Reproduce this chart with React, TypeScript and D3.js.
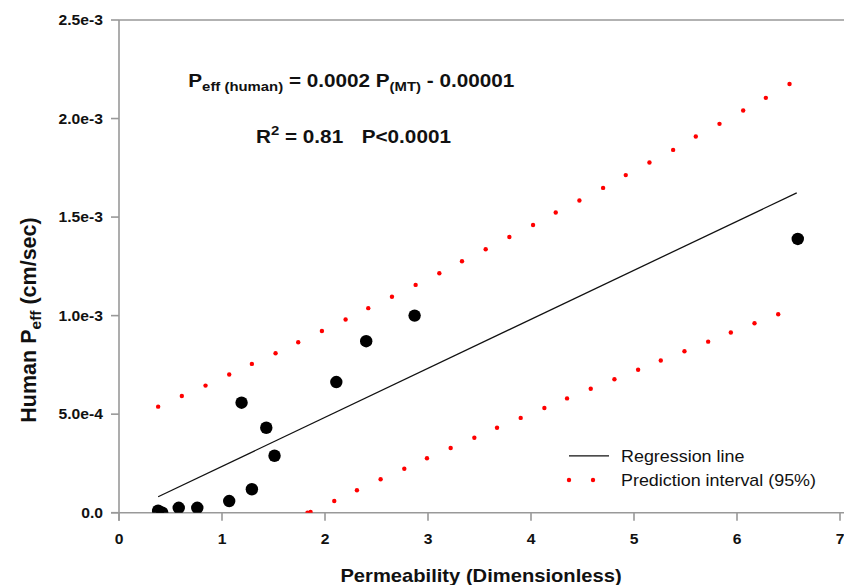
import React from "react";
import * as d3 from "d3";

// ---- data ----
const permeability = [0.38, 0.42, 0.58, 0.76, 1.07, 1.19, 1.29, 1.43, 1.51, 2.11, 2.40, 2.87, 6.59];
const humanPeff = [0.010e-3, 0.0, 0.025e-3, 0.025e-3, 0.059e-3, 0.558e-3, 0.119e-3, 0.431e-3, 0.289e-3, 0.663e-3, 0.870e-3, 1.000e-3, 1.389e-3];

const regressionX = [0.38, 6.58];
const regressionY = [0.081e-3, 1.623e-3];

const upperPIX = [0.38, 0.61, 0.84, 1.07, 1.29, 1.52, 1.74, 1.97, 2.20, 2.42, 2.65, 2.88, 3.11, 3.33, 3.56, 3.79, 4.02, 4.24, 4.47, 4.70, 4.92, 5.15, 5.38, 5.60, 5.83, 6.06, 6.28, 6.51];
const upperPIY = [0.538e-3, 0.592e-3, 0.645e-3, 0.701e-3, 0.755e-3, 0.809e-3, 0.865e-3, 0.922e-3, 0.980e-3, 1.038e-3, 1.096e-3, 1.156e-3, 1.215e-3, 1.276e-3, 1.337e-3, 1.399e-3, 1.460e-3, 1.523e-3, 1.584e-3, 1.648e-3, 1.713e-3, 1.777e-3, 1.841e-3, 1.909e-3, 1.973e-3, 2.041e-3, 2.105e-3, 2.175e-3];

const lowerPIX = [1.83, 1.86, 2.09, 2.31, 2.54, 2.77, 2.99, 3.22, 3.45, 3.67, 3.90, 4.13, 4.35, 4.58, 4.81, 5.04, 5.26, 5.49, 5.72, 5.94, 6.17, 6.40];
const lowerPIY = [0.0, 0.004e-3, 0.059e-3, 0.114e-3, 0.170e-3, 0.223e-3, 0.276e-3, 0.328e-3, 0.380e-3, 0.431e-3, 0.481e-3, 0.531e-3, 0.580e-3, 0.629e-3, 0.677e-3, 0.725e-3, 0.772e-3, 0.819e-3, 0.868e-3, 0.914e-3, 0.961e-3, 1.007e-3];

const xTicks = [0, 1, 2, 3, 4, 5, 6, 7];
const xTickLabels = ["0", "1", "2", "3", "4", "5", "6", "7"];
const yTicks = [0, 0.5e-3, 1.0e-3, 1.5e-3, 2.0e-3, 2.5e-3];
const yTickLabels = ["0.0", "5.0e-4", "1.0e-3", "1.5e-3", "2.0e-3", "2.5e-3"];

const legendLabels = ["Regression line", "Prediction interval (95%)"];

const W = 844;
const H = 585;
const FONT = "Arial, 'Liberation Sans', Helvetica, sans-serif";
const AXIS = "#999999";
const SX = 1.12; // horizontal text stretch seen in the reference

export default function App() {
  const x = d3.scaleLinear().domain([0, 7]).range([119, 840]);
  const y = d3.scaleLinear().domain([0, 2.5e-3]).range([512.7, 20]);

  const regLine = d3
    .line<number>()
    .x((d) => x(d))
    .y((_, i) => y(regressionY[i]))(regressionX);

  const x0 = x(0);
  const yBottom = y(0);
  const yTop = y(2.5e-3);

  return (
    <svg
      width={W}
      height={H}
      viewBox={`0 0 ${W} ${H}`}
      style={{ position: "absolute", left: 0, top: 0, background: "#fff", fontFamily: FONT }}
    >
      <rect x={0} y={0} width={W} height={H} fill="#fff" />
      <defs>
        <clipPath id="plotclip">
          <rect x={x0} y={yTop - 5} width={W - x0} height={yBottom - yTop + 5} />
        </clipPath>
      </defs>

      {/* frame lines */}
      <line x1={x0} x2={W} y1={yTop} y2={yTop} stroke={AXIS} strokeWidth={1.6} />
      <line x1={x0 - 8} x2={W} y1={yBottom} y2={yBottom} stroke={AXIS} strokeWidth={1.6} />
      <line x1={x0} x2={x0} y1={yTop} y2={yBottom + 8} stroke={AXIS} strokeWidth={1.6} />

      {/* y ticks */}
      {yTicks.map((t, i) => (
        <g key={"yt" + i}>
          <line x1={x0 - 8} x2={x0} y1={y(t)} y2={y(t)} stroke={AXIS} strokeWidth={1.6} />
          <g transform={`translate(103,${y(t)}) scale(${SX},1)`}>
            <text x={0} y={0} dy="0.36em" textAnchor="end" fontSize={14} fontWeight="bold" fill="#111">
              {yTickLabels[i]}
            </text>
          </g>
        </g>
      ))}

      {/* x ticks */}
      {xTicks.map((t, i) => (
        <g key={"xt" + i}>
          <line x1={x(t)} x2={x(t)} y1={yBottom} y2={yBottom + 8} stroke={AXIS} strokeWidth={1.6} />
          <g transform={`translate(${x(t)},543.5) scale(${SX},1)`}>
            <text x={0} y={0} textAnchor="middle" fontSize={14} fontWeight="bold" fill="#111">
              {xTickLabels[i]}
            </text>
          </g>
        </g>
      ))}

      {/* axis titles */}
      <g transform={`translate(481,582) scale(${SX},1)`}>
        <text x={0} y={0} textAnchor="middle" fontSize={18} fontWeight="bold" fill="#111">
          Permeability (Dimensionless)
        </text>
      </g>
      <g transform={`translate(36,320) rotate(-90)`}>
        <text x={0} y={0} textAnchor="middle" fontSize={21.5} fontWeight="bold" fill="#111" style={{ whiteSpace: "pre" }}>
          <tspan>Human P</tspan>
          <tspan fontSize={15.5} dy={5}>eff</tspan>
          <tspan dy={-5}> (cm/sec)</tspan>
        </text>
      </g>

      {/* data */}
      <g clipPath="url(#plotclip)">
        <path d={regLine || ""} stroke="#111" strokeWidth={1.3} fill="none" />
        {upperPIX.map((v, i) => (
          <circle key={"u" + i} cx={x(v)} cy={y(upperPIY[i])} r={2.2} fill="#ff0000" />
        ))}
        {lowerPIX.map((v, i) => (
          <circle key={"l" + i} cx={x(v)} cy={y(lowerPIY[i])} r={2.2} fill="#ff0000" />
        ))}
        {permeability.map((v, i) => (
          <circle key={"p" + i} cx={x(v)} cy={y(humanPeff[i])} r={6.2} fill="#000" />
        ))}
      </g>

      {/* equation */}
      <g transform={`translate(188.3,87.3) scale(${SX},1)`}>
        <text x={0} y={0} fontSize={18.5} fontWeight="bold" fill="#111" style={{ whiteSpace: "pre" }}>
          <tspan>P</tspan>
          <tspan fontSize={13.3} dy={4}>eff (human)</tspan>
          <tspan dy={-4}> = 0.0002 P</tspan>
          <tspan fontSize={13.3} dy={4}>(MT)</tspan>
          <tspan dy={-4}> - 0.00001</tspan>
        </text>
      </g>
      <g transform={`translate(256,143.3) scale(${SX},1)`}>
        <text x={0} y={0} fontSize={18.5} fontWeight="bold" fill="#111" style={{ whiteSpace: "pre" }}>
          <tspan>R</tspan>
          <tspan fontSize={13.3} dy={-8}>2</tspan>
          <tspan dy={8}> = 0.81</tspan>
        </text>
      </g>
      <g transform={`translate(361.7,143.3) scale(${SX},1)`}>
        <text x={0} y={0} fontSize={18.5} fontWeight="bold" fill="#111">
          P&lt;0.0001
        </text>
      </g>

      {/* legend */}
      <line x1={569} x2={609} y1={455.8} y2={455.8} stroke="#111" strokeWidth={1.3} />
      <g transform={`translate(621,461.5) scale(${SX},1)`}>
        <text fontSize={16} fill="#111">{legendLabels[0]}</text>
      </g>
      <circle cx={569} cy={480} r={2.2} fill="#ff0000" />
      <circle cx={593} cy={480} r={2.2} fill="#ff0000" />
      <g transform={`translate(621,485.5) scale(${SX},1)`}>
        <text fontSize={16} fill="#111">{legendLabels[1]}</text>
      </g>
    </svg>
  );
}
